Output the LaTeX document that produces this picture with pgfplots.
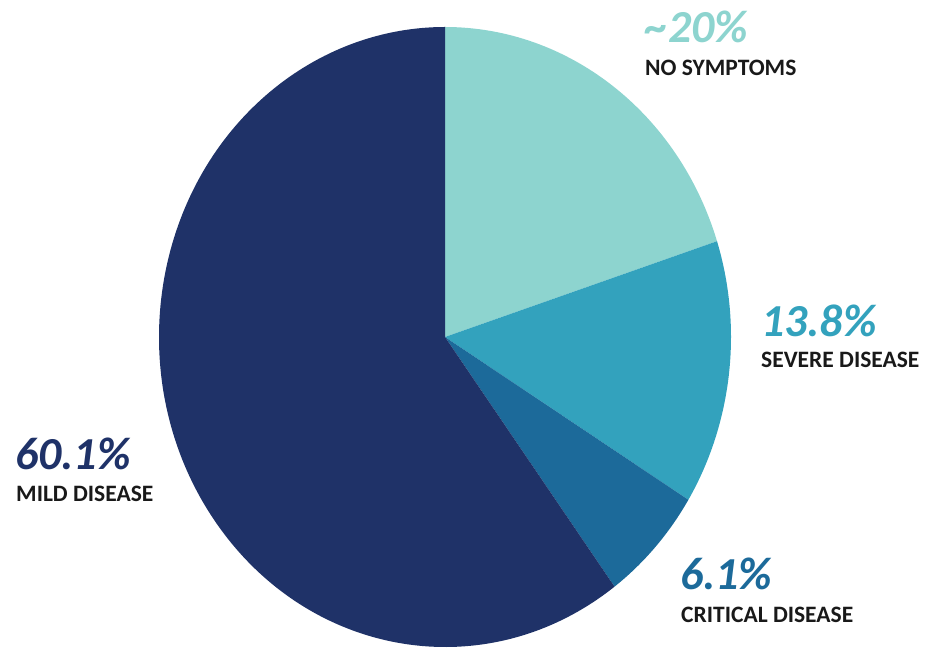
\documentclass[border=0pt]{standalone}
\usepackage{fontspec}
\setmainfont{Carlito}
\usepackage{pgfplots}
\pgfplotsset{compat=1.18}
\definecolor{cNo}{HTML}{8DD4CF}
\definecolor{cSev}{HTML}{33A2BD}
\definecolor{cCrit}{HTML}{1C6A9A}
\definecolor{cMild}{HTML}{1F3268}
% shares in percent, clockwise from 12 o'clock:
% no symptoms 20, severe 13.8, critical 6.1, mild 60.1
\begin{document}
\begin{tikzpicture}
\begin{axis}[
  at={(0,0)}, anchor=south west,
  scale only axis, width=925bp, height=649bp,
  xmin=0, xmax=925, ymin=0, ymax=649,
  hide axis, clip=false]
% angles: 90 - 3.6 * cumulative percent
\fill[cNo]   (axis cs:445,312) -- ++(90:286bp and 310bp)     arc[start angle=90,     end angle=18,      x radius=286bp, y radius=310bp] -- cycle;
\fill[cSev]  (axis cs:445,312) -- ++(18:286bp and 310bp)     arc[start angle=18,     end angle=-31.68,  x radius=286bp, y radius=310bp] -- cycle;
\fill[cCrit] (axis cs:445,312) -- ++(-31.68:286bp and 310bp) arc[start angle=-31.68, end angle=-53.64,  x radius=286bp, y radius=310bp] -- cycle;
\fill[cMild] (axis cs:445,312) -- ++(-53.64:286bp and 310bp) arc[start angle=-53.64, end angle=-270,    x radius=286bp, y radius=310bp] -- cycle;
\tikzset{pct/.style={anchor=base west, inner sep=0pt, font=\fontsize{46}{46}\selectfont\bfseries\itshape},
         lab/.style={anchor=base west, inner sep=0pt, font=\fontsize{23.6}{24}\selectfont\bfseries, text=black!90}}
\node[pct, text=cNo]   at (axis cs:645,606) {\textasciitilde20\%};
\node[lab]             at (axis cs:645,573) {NO SYMPTOMS};
\node[pct, text=cSev]  at (axis cs:761,312) {13.8\%};
\node[lab]             at (axis cs:761,281) {SEVERE DISEASE};
\node[pct, text=cCrit] at (axis cs:680,59)  {6.1\%};
\node[lab]             at (axis cs:681,27)  {CRITICAL DISEASE};
\node[pct, text=cMild] at (axis cs:15,179)  {60.1\%};
\node[lab]             at (axis cs:16,147)  {MILD DISEASE};
\end{axis}
\pgfresetboundingbox
\path (0,0) rectangle (925bp,649bp);
\end{tikzpicture}
\end{document}
